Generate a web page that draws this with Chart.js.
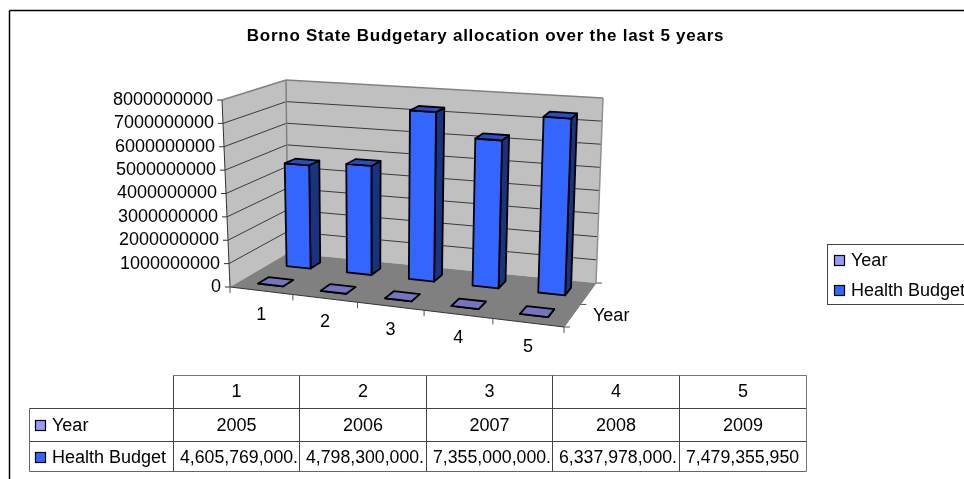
<!DOCTYPE html>
<html>
<head>
<meta charset="utf-8">
<title>Borno State Budgetary allocation</title>
<script src="https://cdn.jsdelivr.net/npm/chart.js@4/dist/chart.umd.min.js"></script>
<style>
  html, body { margin: 0; padding: 0; background: #fff; }
  canvas { display: block; }
</style>
</head>
<body>
<canvas id="budgetChart" width="964" height="479"></canvas>
<script>
// ─── Data ───
const TITLE = "Borno State Budgetary allocation over the last 5 years";
const categories = ["1", "2", "3", "4", "5"];
const years = [2005, 2006, 2007, 2008, 2009];
const healthBudget = [4605769000, 4798300000, 7355000000, 6337978000, 7479355950];
const yTickStep = 1000000000;
const yMax = 8000000000;

const FONT = '"Liberation Sans", Arial, sans-serif';

// ── Projection: floor corners on screen plus the lean of each vertical edge ──
function quadMap(q) {
  const [p0, p1, p2, p3] = q;
  const dx1 = p1[0] - p2[0], dx2 = p3[0] - p2[0], sx = p0[0] - p1[0] + p2[0] - p3[0];
  const dy1 = p1[1] - p2[1], dy2 = p3[1] - p2[1], sy = p0[1] - p1[1] + p2[1] - p3[1];
  const den = dx1 * dy2 - dx2 * dy1;
  const g = (sx * dy2 - dx2 * sy) / den;
  const h = (dx1 * sy - sx * dy1) / den;
  const a = p1[0] - p0[0] + g * p1[0], b = p3[0] - p0[0] + h * p3[0];
  const d = p1[1] - p0[1] + g * p1[1], e = p3[1] - p0[1] + h * p3[1];
  return (u, w) => {
    const k = g * u + h * w + 1;
    return [(a * u + b * w + p0[0]) / k, (d * u + e * w + p0[1]) / k];
  };
}

function bilerp(q, u, w) {
  const f = i => (q[0][i] * (1 - u) + q[1][i] * u) * (1 - w) + (q[3][i] * (1 - u) + q[2][i] * u) * w;
  return [f(0), f(1)];
}

const FLOOR = [[230, 287], [564, 327], [596, 283], [288, 253]];
const LEAN = [[-8, -187], [8, -199], [7, -185], [-2, -173]];
const PERSPECTIVE = 0.45; // how much of the true perspective to keep on the floor
const floorMap = quadMap(FLOOR);

// u along categories, v up the value axis, w front to back (all 0..1)
function project(u, v, w) {
  const h = floorMap(u, w), b = bilerp(FLOOR, u, w), l = bilerp(LEAN, u, w);
  return [
    b[0] + (h[0] - b[0]) * PERSPECTIVE + l[0] * v,
    b[1] + (h[1] - b[1]) * PERSPECTIVE + l[1] * v
  ];
}

function poly(ctx, pts, fill, stroke, lw) {
  ctx.beginPath();
  pts.forEach((p, i) => i ? ctx.lineTo(p[0], p[1]) : ctx.moveTo(p[0], p[1]));
  ctx.closePath();
  if (fill) { ctx.fillStyle = fill; ctx.fill(); }
  if (stroke) { ctx.strokeStyle = stroke; ctx.lineWidth = lw; ctx.stroke(); }
}

function line(ctx, a, b, color, lw) {
  ctx.beginPath();
  ctx.moveTo(a[0], a[1]);
  ctx.lineTo(b[0], b[1]);
  ctx.strokeStyle = color;
  ctx.lineWidth = lw;
  ctx.stroke();
}

function text(ctx, str, x, y, align, font) {
  ctx.font = font;
  ctx.fillStyle = "#000";
  ctx.textAlign = align;
  ctx.textBaseline = "middle";
  ctx.fillText(str, x, y);
}

function shade(hex, f) {
  const n = parseInt(hex.slice(1), 16);
  const c = [n >> 16, (n >> 8) & 255, n & 255].map(x => Math.round(x * f));
  return `rgb(${c[0]},${c[1]},${c[2]})`;
}

const fmtBudget = (v, i) => v.toLocaleString("en-US") + (i < 4 ? "." : "");

// ── Walls, floor and axes ──
function drawBox(chart) {
  const ctx = chart.ctx;
  const yScale = chart.scales.y, area = chart.chartArea;
  ctx.save();
  ctx.lineJoin = "round";

  poly(ctx, [project(0, 0, 0), project(0, 1, 0), project(0, 1, 1), project(0, 0, 1)], "#c0c0c0");
  poly(ctx, [project(0, 0, 1), project(0, 1, 1), project(1, 1, 1), project(1, 0, 1)], "#c0c0c0");
  poly(ctx, [project(0, 0, 0), project(1, 0, 0), project(1, 0, 1), project(0, 0, 1)], "#808080");

  yScale.ticks.forEach(t => {
    const v = (area.bottom - yScale.getPixelForValue(t.value)) / area.height;
    const front = project(0, v, 0);
    if (t.value > 0 && t.value < yMax) {
      line(ctx, front, project(0, v, 1), "#3a3a3a", 1);
      line(ctx, project(0, v, 1), project(1, v, 1), "#3a3a3a", 1);
    }
    line(ctx, [front[0] - 5, front[1]], front, "#333", 1);
    text(ctx, t.label, front[0] - 9, front[1], "right", "18px " + FONT);
  });

  // wall outlines
  line(ctx, project(0, 1, 0), project(0, 1, 1), "#808080", 1.5);
  line(ctx, project(0, 1, 1), project(1, 1, 1), "#808080", 1.5);
  line(ctx, project(1, 1, 1), project(1, 0, 1), "#909090", 1.5);
  line(ctx, project(0, 0, 1), project(0, 1, 1), "#808080", 1.5);
  line(ctx, project(0, 0, 0), project(0, 1, 0), "#333", 1);

  // front edge with category ticks
  line(ctx, project(0, 0, 0), project(1, 0, 0), "#333", 1);
  for (let i = 0; i <= categories.length; i++) {
    const p = project(i / categories.length, 0, 0);
    line(ctx, p, [p[0], p[1] + 6], "#555", 1);
  }
  categories.forEach((c, i) => {
    const p = project((i + 0.5) / categories.length, 0, 0);
    text(ctx, c, p[0], p[1] + 24, "center", "18px " + FONT);
  });

  // depth edge with series ticks
  line(ctx, project(1, 0, 0), project(1, 0, 1), "#777", 1);
  [0, 0.5, 1].forEach(w => {
    const p = project(1, 0, w);
    line(ctx, p, [p[0] + 6, p[1]], "#555", 1);
  });
  text(ctx, "Year", 593, 316, "left", "18px " + FONT);
  ctx.restore();
}

// ── One 3D column per bar element ──
function drawColumns(chart, args) {
  const ctx = chart.ctx, area = chart.chartArea;
  const color = chart.data.datasets[args.index].backgroundColor;
  const wMid = (args.index + 0.5) / chart.data.datasets.length;
  const w0 = wMid - 0.09, w1 = wMid + 0.09;
  ctx.save();
  ctx.lineJoin = "round";
  args.meta.data.forEach(el => {
    const u0 = (el.x - el.width / 2 - area.left) / area.width;
    const u1 = (el.x + el.width / 2 - area.left) / area.width;
    const v = (area.bottom - el.y) / area.height;
    poly(ctx, [project(u1, 0, w0), project(u1, v, w0), project(u1, v, w1), project(u1, 0, w1)], shade(color, 0.5), "#000", 1.8);
    poly(ctx, [project(u0, 0, w0), project(u1, 0, w0), project(u1, v, w0), project(u0, v, w0)], color, "#000", 1.8);
    poly(ctx, [project(u0, v, w0), project(u1, v, w0), project(u1, v, w1), project(u0, v, w1)], shade(color, 0.76), "#000", 1.8);
  });
  ctx.restore();
  return false;
}

function swatch(ctx, x, y, color) {
  ctx.fillStyle = color;
  ctx.fillRect(x, y, 10, 10);
  ctx.strokeStyle = "#000";
  ctx.lineWidth = 1.2;
  ctx.strokeRect(x, y, 10, 10);
}

// ── Title, legend and data table ──
function drawFrame(chart) {
  const ctx = chart.ctx;
  const ds = chart.data.datasets;
  ctx.save();

  line(ctx, [9.5, 10.5], [964, 10.5], "#000", 1.5);
  line(ctx, [9.5, 10.5], [9.5, 479], "#000", 1.5);

  ctx.letterSpacing = "0.74px";
  text(ctx, TITLE, 485.5, 36, "center", "bold 17px " + FONT);
  ctx.letterSpacing = "0px";

  // legend
  ctx.strokeStyle = "#444";
  ctx.lineWidth = 1;
  ctx.strokeRect(827.5, 244.5, 140, 60);
  ds.forEach((d, i) => {
    const y = 261 + i * 30;
    swatch(ctx, 834.5, y - 5.5, d.backgroundColor);
    text(ctx, d.label, 851, y, "left", "18px " + FONT);
  });

  // table grid
  const colX = [173.5, 299.5, 426.5, 552.5, 679.5, 806.5];
  const rowY = [375.5, 408.5, 441.5, 471.5];
  const leftX = 29.5;
  line(ctx, [colX[0], rowY[0]], [colX[5], rowY[0]], "#777", 1);
  line(ctx, [leftX, rowY[1]], [colX[5], rowY[1]], "#444", 1);
  line(ctx, [leftX, rowY[2]], [colX[5], rowY[2]], "#444", 1);
  line(ctx, [leftX, rowY[3]], [colX[5], rowY[3]], "#666", 1);
  line(ctx, [leftX, rowY[1]], [leftX, rowY[3]], "#666", 1);
  colX.forEach((x, i) => line(ctx, [x, rowY[0]], [x, rowY[3]], i === 5 ? "#777" : "#444", 1));

  const cellFont = "18px " + FONT;
  categories.forEach((c, i) => {
    const cx = (colX[i] + colX[i + 1]) / 2;
    text(ctx, c, cx, 392, "center", cellFont);
    text(ctx, String(years[i]), cx, 426, "center", cellFont);
    text(ctx, fmtBudget(healthBudget[i], i), colX[i] + 6.5, 458, "left", "17.7px " + FONT);
  });
  ds.forEach((d, i) => {
    const y = 426 + i * 32;
    swatch(ctx, 35.5, y - 5.5, d.backgroundColor);
    text(ctx, d.label, 52, y, "left", cellFont);
  });
  ctx.restore();
}

const boxPlugin = {
  id: "box3d",
  beforeDatasetsDraw: drawBox,
  beforeDatasetDraw: drawColumns,
  afterDraw: drawFrame
};

// ── Init ──
new Chart(document.getElementById("budgetChart"), {
  type: "bar",
  data: {
    labels: categories,
    datasets: [
      { label: "Year", data: years, backgroundColor: "#9999ff", grouped: false },
      { label: "Health Budget", data: healthBudget, backgroundColor: "#3366ff", grouped: false }
    ]
  },
  options: {
    responsive: false,
    animation: false,
    barPercentage: 0.4,
    categoryPercentage: 1,
    layout: { padding: { left: 222, right: 392, top: 100, bottom: 192 } },
    plugins: { legend: { display: false }, title: { display: false }, tooltip: { enabled: false } },
    scales: {
      x: { display: false },
      y: {
        display: false,
        min: 0,
        max: yMax,
        ticks: { stepSize: yTickStep, callback: v => String(v) }
      }
    }
  },
  plugins: [boxPlugin]
});
</script>
</body>
</html>
